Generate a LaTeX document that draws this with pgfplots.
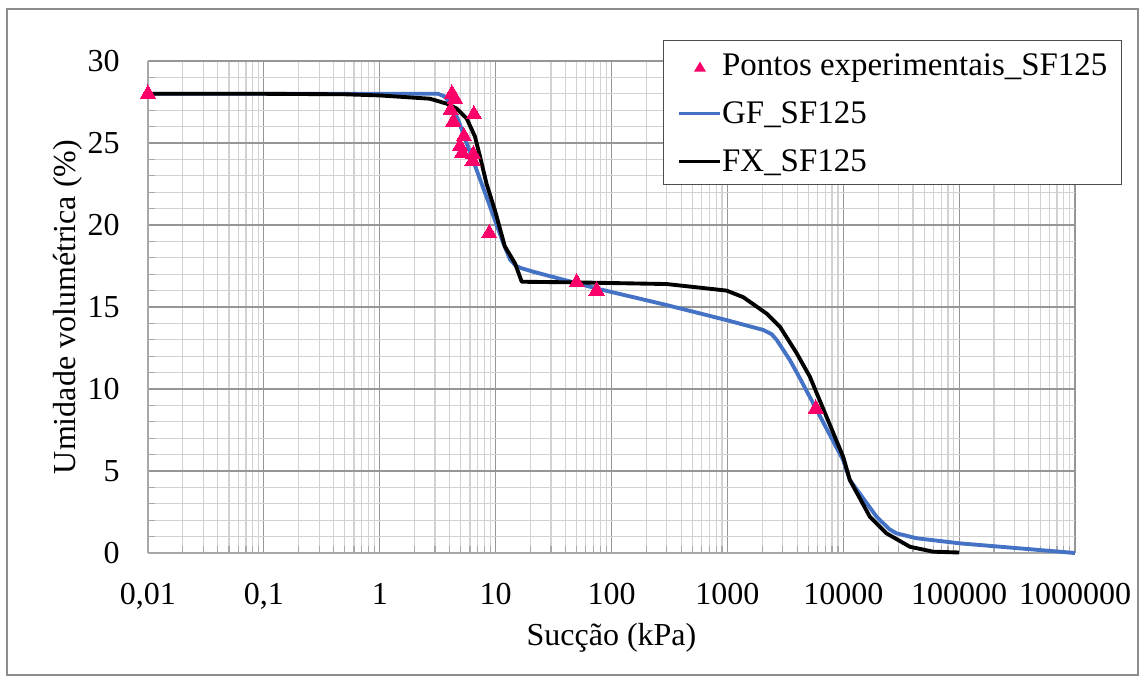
\documentclass[border=0pt]{standalone}
\usepackage{fontspec}
\setmainfont{Liberation Serif}
\usepackage{pgfplots}
\pgfplotsset{compat=1.18}

\definecolor{gfblue}{RGB}{68,114,196}
\definecolor{ptpink}{RGB}{250,0,104}
\definecolor{majgrid}{RGB}{150,150,150}
\definecolor{mingrid}{RGB}{210,210,210}
\definecolor{frame}{RGB}{140,140,140}

\newcommand{\chartfont}{\fontsize{24}{28}\selectfont}
\newcommand{\legfont}{\fontsize{24.7}{28}\selectfont}

% experimental points
\pgfplotstableread{
x y
0.01 28.0
4.20 28.0
4.45 27.7
4.09 27.0
4.31 26.3
6.50 26.75
5.33 25.4
4.92 24.8
5.15 24.4
6.41 24.3
6.33 23.9
8.81 19.5
50 16.5
74.4 16.0
5800 8.8
}\pontos

% GF fit
\pgfplotstableread{
x y
0.01 28.0
1 28.0
3.18 28.0
3.6 27.85
4.03 27.5
4.76 26.4
5.62 25.0
6.86 23.35
8.36 21.7
9.86 20.3
11.64 18.9
13.3 17.9
15.0 17.5
16.8 17.36
21.1 17.15
79.4 16.08
299 15.12
985 14.2
2040 13.6
2400 13.35
2660 13.0
3460 11.77
4230 10.65
9980 5.67
11400 4.45
19400 2.21
25000 1.45
28800 1.2
42900 0.9
101000 0.59
1000000 0.0
}\gf

% FX fit
\pgfplotstableread{
x y
0.01 28.0
0.1 28.0
0.5 27.97
1 27.9
2.71 27.7
3.78 27.4
4.61 27.1
5.62 26.5
6.63 25.4
7.32 24.2
8.36 22.5
9.86 20.9
12.0 18.7
14.7 17.66
16.8 16.54
50 16.5
299 16.4
985 16.0
1370 15.6
2180 14.6
2840 13.8
3950 12.2
5150 10.75
9980 5.87
11400 4.45
17000 2.2
23600 1.2
37600 0.38
59700 0.08
100000 0.03
}\fx

\begin{document}
\begin{tikzpicture}
\path[use as bounding box] (0,0) rectangle (858.75pt,511.5pt);
\draw[frame, line width=1pt] (5.25pt,5.25pt) rectangle (853.5pt,504.75pt);
\begin{axis}[
  at={(111pt,96.75pt)}, anchor=south west,
  scale only axis, width=695.25pt, height=369pt,
  xmode=log, xmin=0.01, xmax=1000000,
  ymin=0, ymax=30,
  xtick={0.01,0.1,1,10,100,1000,10000,100000,1000000},
  xticklabels={{0,01},{0,1},1,10,100,1000,10000,100000,1000000},
  minor xtick={0.02,0.03,0.04,0.05,0.06,0.07,0.08,0.09,
    0.2,0.3,0.4,0.5,0.6,0.7,0.8,0.9,
    2,3,4,5,6,7,8,9,
    20,30,40,50,60,70,80,90,
    200,300,400,500,600,700,800,900,
    2000,3000,4000,5000,6000,7000,8000,9000,
    20000,30000,40000,50000,60000,70000,80000,90000,
    200000,300000,400000,500000,600000,700000,800000,900000},
  ytick={0,5,10,15,20,25,30},
  minor ytick={1,2,3,4,6,7,8,9,11,12,13,14,16,17,18,19,21,22,23,24,26,27,28,29},
  grid=both,
  major grid style={majgrid, line width=0.9pt},
  minor grid style={mingrid, line width=0.9pt},
  axis line style={mingrid!80!black, line width=0.9pt},
  axis x line*=bottom, axis y line*=left,
  tick style={mingrid!80!black, line width=0.9pt},
  major tick length=0pt, minor tick length=5pt,
  tick align=inside,
  /pgf/number format/assume math mode=true,
  tick label style={font=\chartfont},
  xticklabel style={anchor=base, inner sep=0pt, yshift=-38.25pt},
  yticklabel style={anchor=east, inner sep=0pt, xshift=-21pt},
  xlabel={Sucção (kPa)},
  ylabel={Umidade volumétrica (\%)},
  every axis x label/.style={at={(axis description cs:0.5,-0.187)}, anchor=base, font=\chartfont},
  every axis y label/.style={at={(axis description cs:-0.0787,0.5)}, rotate=90, anchor=base, font=\chartfont},
  clip=false,
  legend cell align=left,
  legend style={at={(axis description cs:0.5556,1.0427)}, anchor=north west,
    draw=black!70, line width=1pt, fill=white,
    font=\legfont, inner xsep=10.5pt, inner ysep=0pt,
    nodes={inner sep=0pt, text height=26pt, text depth=10pt},
    /tikz/every odd column/.append style={column sep=0pt}},
]
\addplot[only marks, draw=none,
  mark=triangle*, mark size=6.6pt, mark options={fill=ptpink, draw=ptpink, line width=0pt},
  legend image code/.code={\fill[ptpink] (15.4pt,2.3pt) -- (10.9pt,-5.3pt) -- (19.9pt,-5.3pt) -- cycle;}]
  table[x=x, y=y] {\pontos};
\addlegendentry{Pontos experimentais\_SF125}
\addplot[gfblue, line width=2.9pt, line join=round,
  legend image code/.code={\draw[gfblue, line width=2.6pt] (0pt,-0.75pt) -- (30.75pt,-0.75pt);}]
  table[x=x, y=y] {\gf};
\addlegendentry{GF\_SF125}
\addplot[black, line width=2.9pt, line join=round,
  legend image code/.code={\draw[black, line width=2.6pt] (0pt,-0.75pt) -- (30.75pt,-0.75pt);}]
  table[x=x, y=y] {\fx};
\addlegendentry{FX\_SF125}
\end{axis}
\end{tikzpicture}
\end{document}
